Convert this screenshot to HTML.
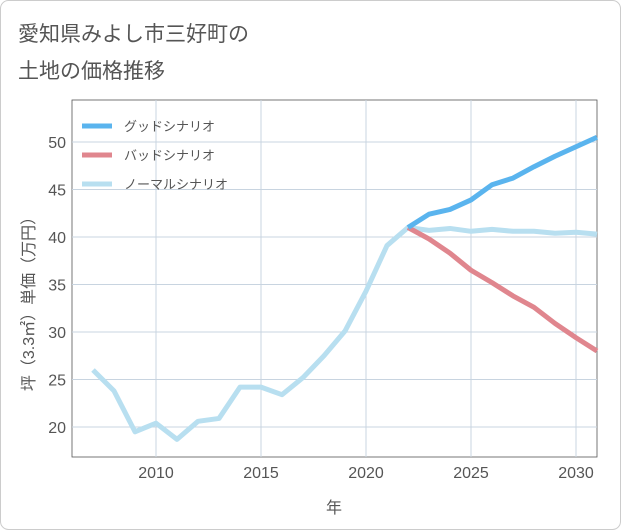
<!DOCTYPE html>
<html><head><meta charset="utf-8"><style>
body{margin:0;background:#fff;}
svg{display:block;font-family:"Liberation Sans","Noto Sans CJK JP",sans-serif;}
</style></head><body>
<svg id="c" width="621" height="530" viewBox="0 0 621 530">
<rect x="0.5" y="0.5" width="620" height="529" rx="8" fill="#fff" stroke="#ccc"/>
<text x="18" y="41" font-size="21" fill="#555">愛知県みよし市三好町の</text>
<text x="18" y="78" font-size="21" fill="#555">土地の価格推移</text>
<rect x="72" y="100" width="525" height="357" fill="#fff" stroke="#555" stroke-width="0.8"/>
<g id="grid"></g><g id="lines"></g>
<text x="334" y="513" font-size="16" fill="#555" text-anchor="middle">年</text>
<text transform="translate(34,300) rotate(-90)" font-size="16" fill="#555" text-anchor="middle">坪（3.3㎡）単価（万円）</text>
<g id="legend"></g>
</svg>
<script>
const years=[2007,2008,2009,2010,2011,2012,2013,2014,2015,2016,2017,2018,2019,2020,2021,2022,2023,2024,2025,2026,2027,2028,2029,2030,2031];
const normal=[26,23.8,19.5,20.4,18.7,20.6,20.9,24.2,24.2,23.4,25.2,27.5,30.1,34.3,39.1,41,40.7,40.9,40.6,40.8,40.6,40.6,40.4,40.5,40.3];
const futYears=[2022,2023,2024,2025,2026,2027,2028,2029,2030,2031];
const good=[41,42.4,42.9,43.9,45.5,46.2,47.4,48.5,49.5,50.5];
const bad=[41,39.8,38.3,36.5,35.2,33.8,32.6,30.9,29.4,28.0];
const xTicks=[2010,2015,2020,2025,2030];
const yTicks=[20,25,30,35,40,45,50];
const X=y=>156+(y-2010)*21, Y=v=>427-(v-20)*9.5;
const NS="http://www.w3.org/2000/svg";
function mk(t,a,p){const e=document.createElementNS(NS,t);for(const k in a)e.setAttribute(k,a[k]);p.appendChild(e);return e;}
const g=document.getElementById('grid');
xTicks.forEach(t=>{const l=mk('line',{x1:X(t),x2:X(t),y1:100,y2:457,stroke:'#c8d4e0','stroke-width':1},g);


const tx=mk('text',{x:X(t),y:478,'font-size':16,fill:'#555','text-anchor':'middle'},g);tx.textContent=t;

});
yTicks.forEach(t=>{const l=mk('line',{x1:72,x2:597,y1:Y(t),y2:Y(t),stroke:'#c8d4e0','stroke-width':1},g);


const tx=mk('text',{x:66,y:Y(t)+6,'font-size':16,fill:'#555','text-anchor':'end'},g);tx.textContent=t;

});
const L=document.getElementById('lines');
function series(xs,vs,col,name){const p=mk('polyline',{points:xs.map((x,i)=>X(x)+','+Y(vs[i])).join(' '),fill:'none',stroke:col,'stroke-width':5,'stroke-linejoin':'round'},L);

}
series(years,normal,'#b8dff0','normal-scenario-line');
series(futYears,bad,'#e0868e','bad-scenario-line');
series(futYears,good,'#5ab4ee','good-scenario-line');
const lg=document.getElementById('legend');
[['グッドシナリオ','#5ab4ee'],['バッドシナリオ','#e0868e'],['ノーマルシナリオ','#b8dff0']].forEach((d,i)=>{const y=126+i*29;
const l=mk('line',{x1:82,x2:112,y1:y,y2:y,stroke:d[1],'stroke-width':5},lg);


const t=mk('text',{x:124,y:y+5,'font-size':13,fill:'#555'},lg);t.textContent=d[0];

});
</script>
</body></html>
